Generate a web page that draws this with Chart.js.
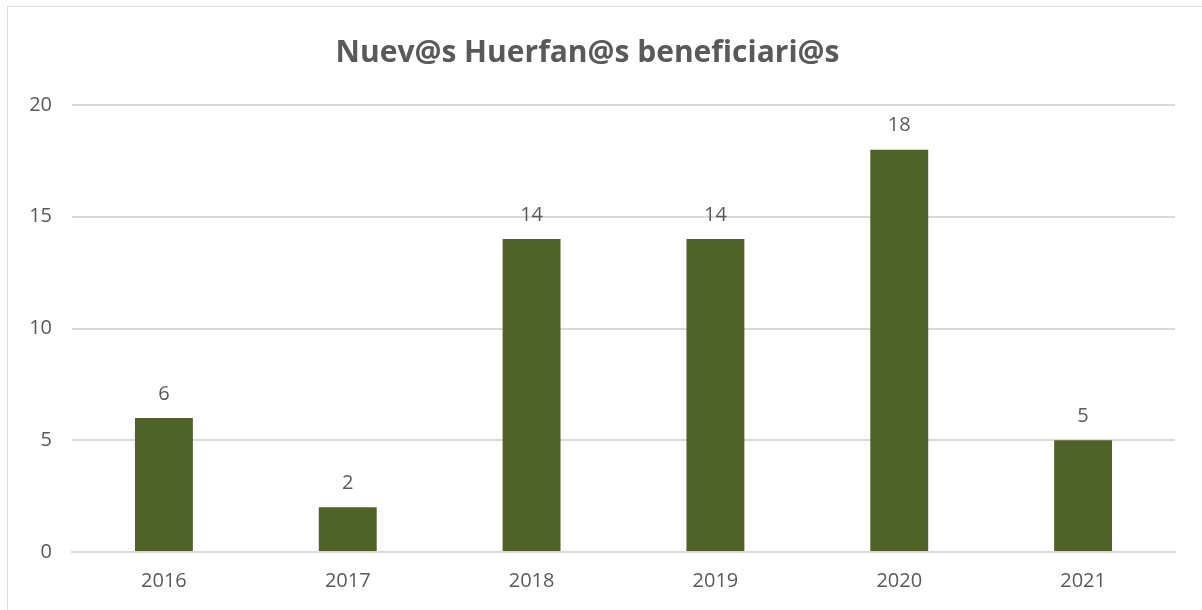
<!DOCTYPE html>
<html>
<head>
<meta charset="utf-8">
<script src="https://cdn.jsdelivr.net/npm/chart.js@4/dist/chart.umd.min.js"></script>
<style>
    body { margin: 0; background: #fff; }
    #wrap { position: relative; width: 1202px; height: 610px; }
    #frame { position: absolute; left: 7px; top: 6px; width: 1210px; height: 620px; border: 1px solid #d9d9d9; box-sizing: border-box; }
    canvas { position: absolute; left: 0; top: 0; }
</style>
</head>
<body>
<div id="wrap">
    <div id="frame"></div>
    <canvas id="chart" width="1202" height="610"></canvas>
</div>
<script>
const years = ['2016', '2017', '2018', '2019', '2020', '2021'];
const beneficiarios = [6, 2, 14, 14, 18, 5];
const chartTitle = 'Nuev@s Huerfan@s beneficiari@s';

const textColor = '#595959';
const fontFamily = '"Open Sans", sans-serif';

// Etiquetas encima de cada barra
const valueLabels = {
    id: 'valueLabels',
    afterDatasetsDraw(chart) {
        const ctx = chart.ctx;
        const meta = chart.getDatasetMeta(0);
        ctx.save();
        ctx.fillStyle = textColor;
        ctx.font = '20px ' + fontFamily;
        ctx.textAlign = 'center';
        ctx.textBaseline = 'middle';
        meta.data.forEach((bar, i) => {
            ctx.fillText(beneficiarios[i], bar.x, bar.y - 24);
        });
        ctx.restore();
    }
};

new Chart(document.getElementById('chart'), {
    type: 'bar',
    data: {
        labels: years,
        datasets: [{
            data: beneficiarios,
            backgroundColor: '#4f6228',
            borderWidth: 0,
            categoryPercentage: 1,
            barPercentage: 0.315
        }]
    },
    options: {
        responsive: false,
        animation: false,
        layout: { padding: { left: 0, right: 27, bottom: 0, top: 0 } },
        plugins: {
            legend: { display: false },
            tooltip: { enabled: false },
            title: {
                display: true,
                text: chartTitle,
                color: textColor,
                font: { family: fontFamily, size: 30, weight: 'bold' },
                padding: { top: 35, bottom: 34 }
            }
        },
        scales: {
            x: {
                grid: { display: false, drawTicks: false },
                border: { color: '#d9d9d9', width: 2 },
                ticks: { color: textColor, font: { family: fontFamily, size: 20, lineHeight: 1.1 }, padding: 18 }
            },
            y: {
                min: 0,
                max: 20,
                ticks: { stepSize: 5, color: textColor, font: { family: fontFamily, size: 20 }, padding: 20 },
                grid: { color: '#d9d9d9', lineWidth: 2, drawTicks: false },
                border: { display: false },
                afterFit(scale) { scale.width = 72; }
            }
        }
    },
    plugins: [valueLabels]
});
</script>
</body>
</html>
